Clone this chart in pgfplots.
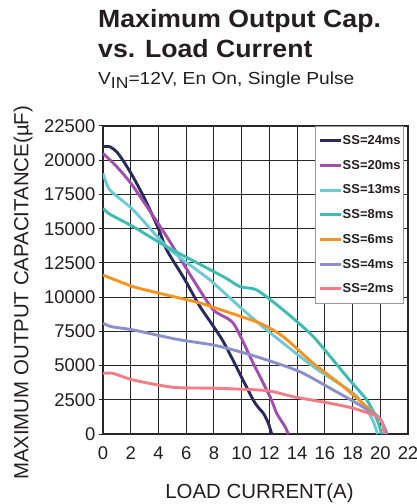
\documentclass[border=0pt]{standalone}
\usepackage{pgfplots}
\pgfplotsset{compat=1.18}
\usepackage{fontspec}
\setmainfont{Liberation Sans}

\definecolor{txt}{HTML}{231F20}
\definecolor{cNavy}{HTML}{2B2A5C}
\definecolor{cPurple}{HTML}{A24FAE}
\definecolor{cCyan}{HTML}{6DCAD5}
\definecolor{cTeal}{HTML}{3DBCB4}
\definecolor{cOrange}{HTML}{F7931E}
\definecolor{cLav}{HTML}{8C90CA}
\definecolor{cPink}{HTML}{F47D86}

\begin{document}
\begin{tikzpicture}
\useasboundingbox (-103bp,-70bp) rectangle (314bp,434bp);
\begin{axis}[
  at={(0,0)}, anchor=south west,
  scale only axis, width=305bp, height=308bp,
  xmin=0, xmax=22, ymin=0, ymax=22500,
  xtick={0,2,...,22}, ytick={0,2500,...,22500},
  scaled y ticks=false,
  tick pos=left, tick align=outside,
  major tick length=4bp,
  xtick style={draw=none},
  ytick style={line width=1bp, black!85},
  grid=major,
  grid style={line width=1.1bp, black!85},
  axis line style={line width=1.7bp, black!85},
  /pgf/number format/assume math mode=true,
  /pgf/number format/1000 sep={},
  ticklabel style={font=\fontsize{18.5}{21}\selectfont, text=txt},
  xticklabel style={yshift=-5.5bp},
  xlabel={LOAD CURRENT(A)},
  ylabel={MAXIMUM OUTPUT CAPACITANCE(µF)},
  xlabel style={at={(axis description cs:0.513,-0.209)}, anchor=base,
    font=\fontsize{20.5}{23}\selectfont, text=txt},
  ylabel style={at={(axis description cs:-0.262,0.458)}, anchor=center,
    font=\fontsize{20.5}{23}\selectfont, text=txt},
  legend cell align=left,
  legend image code/.code={\draw[#1, line width=3bp] (0bp,0bp) -- (21bp,0bp);},
  legend style={at={(1,1)}, anchor=north east, xshift=-4bp,
    draw=black!40, line width=0.6bp, fill=white,
    font=\fontsize{13}{14}\bfseries, text=txt,
    row sep=10.2bp, inner xsep=3bp, inner ysep=7bp,
    nodes={inner xsep=0bp, inner ysep=2bp}},
  every axis plot/.append style={line width=2.9bp, smooth, tension=0.4},
]
\addplot[cNavy] coordinates {
 (0,21000) (0.5,20980) (1,20600) (1.5,19900) (2.16,18800) (3,17200) (4,15000)
 (4.6,13440) (5.92,11250) (7.0,9300) (8.68,6740) (10.84,2480) (11.57,1510)
 (11.93,780) (12.17,0)
};
\addlegendentry{SS=24ms}
\addplot[cPurple] coordinates {
 (0,20500) (0.99,19530) (2.19,18070) (4.6,14410) (6.52,11250) (7.96,9060)
 (9.4,8090) (10.84,5160) (12.05,2720) (12.53,1510) (13.13,535) (13.37,0)
};
\addlegendentry{SS=20ms}
\addplot[cCyan] coordinates {
 (0,19040) (0.5,17820) (2.19,16360) (4.6,13680) (6.76,11980) (7.72,11250)
 (10.12,9060) (11.81,7600) (15.17,4920) (18.06,2970) (19.03,1750) (19.5,900) (19.8,0)
};
\addlegendentry{SS=13ms}
\addplot[cTeal] coordinates {
 (0,16490) (0.5,16050) (2.19,15140) (4.6,13680) (8.68,11490) (9.88,10760)
 (11.09,10520) (13.0,9060) (15.17,7110) (17.58,4190) (19.03,2480) (19.75,1100)
 (20.1,0)
};
\addlegendentry{SS=8ms}
\addplot[cOrange] coordinates {
 (0,11610) (2.19,10760) (4.6,10150) (7.0,9570) (8.92,8930) (11.33,8090)
 (13.0,7110) (15.17,5160) (17.34,3460) (19.75,1350)
};
\addlegendentry{SS=6ms}
\addplot[cLav] coordinates {
 (0,8090) (0.6,7840) (2.19,7600) (5.32,6920) (7.96,6500) (9.88,6010)
 (11.81,5410) (14.21,4550) (16.62,3210) (18.31,2240) (19.86,1260) (20.3,500) (20.5,0)
};
\addlegendentry{SS=4ms}
\addplot[cPink] coordinates {
 (0,4430) (0.72,4430) (2.19,3940) (5.07,3410) (8.2,3340) (11.81,3170)
 (13.74,2720) (16.4,2240) (18.06,1880) (19.75,1300) (20.1,900) (20.3,0)
};
\addlegendentry{SS=2ms}
\end{axis}
\node[anchor=base west, font=\fontsize{25}{30}\bfseries, text=txt, inner sep=0pt] at (-5bp,406bp)
  {\scalebox{1.07}[1]{Maximum Output Cap.}};
\node[anchor=base west, font=\fontsize{25}{30}\bfseries, text=txt, inner sep=0pt] at (-5bp,376bp)
  {\scalebox{1.07}[1]{vs. Load Current}};
\node[anchor=base west, font=\fontsize{17.5}{20}\selectfont, text=txt, inner sep=0pt] at (-5bp,349bp)
  {\scalebox{1.1}[1]{V\raisebox{-3.5bp}{\fontsize{16}{18}\selectfont IN}=12V, En On, Single Pulse}};
\end{tikzpicture}
\end{document}
